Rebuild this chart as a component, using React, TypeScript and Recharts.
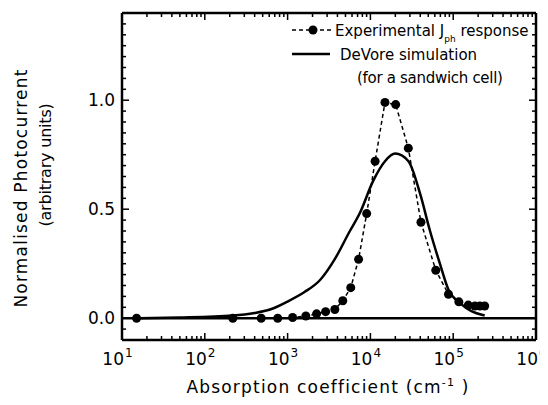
import React from "react";
import { ComposedChart, Line, XAxis, YAxis, ReferenceLine, Customized } from "recharts";

// Experimental J_ph response
const expAlpha = [15, 218, 480, 760, 1150, 1660, 2240, 2880, 3720, 4640, 5790, 7200, 9020, 11400, 15000, 20200, 28700, 40800, 61600, 87700, 117000, 152000, 183000, 210000, 240000];
const expJ = [0, 0, 0, 0, 0.003, 0.01, 0.02, 0.03, 0.04, 0.08, 0.14, 0.27, 0.48, 0.72, 0.99, 0.98, 0.78, 0.44, 0.22, 0.11, 0.075, 0.06, 0.056, 0.056, 0.056];

// DeVore simulation (sandwich cell)
const simAlpha = [16, 50, 218, 400, 613, 980, 1600, 2450, 3700, 5650, 7410, 10800, 15000, 19900, 28800, 39900, 52500, 69100, 87700, 120000, 158000, 240000];
const simJ = [0, 0.003, 0.012, 0.024, 0.04, 0.075, 0.12, 0.174, 0.27, 0.4, 0.48, 0.63, 0.72, 0.755, 0.72, 0.57, 0.4, 0.25, 0.13, 0.07, 0.037, 0.012];

const xMajor = [10, 100, 1000, 10000, 100000, 1000000];
const xExp = ["1", "2", "3", "4", "5", "6"];
const xTicks = [
  10, 20, 30, 40, 50, 60, 70, 80, 90,
  100, 200, 300, 400, 500, 600, 700, 800, 900,
  1000, 2000, 3000, 4000, 5000, 6000, 7000, 8000, 9000,
  10000, 20000, 30000, 40000, 50000, 60000, 70000, 80000, 90000,
  100000, 200000, 300000, 400000, 500000, 600000, 700000, 800000, 900000,
  1000000,
];
const yMajor = [0, 0.5, 1.0];
const yMajorLabels = ["0.0", "0.5", "1.0"];
const yTicks = [-0.1, -0.05, 0, 0.05, 0.1, 0.15, 0.2, 0.25, 0.3, 0.35, 0.4, 0.45, 0.5, 0.55, 0.6, 0.65, 0.7, 0.75, 0.8, 0.85, 0.9, 0.95, 1.0, 1.05, 1.1, 1.15, 1.2, 1.25, 1.3, 1.35, 1.4];

const expData = expAlpha.map((a, i) => ({ x: a, y: expJ[i] }));
const simData = simAlpha.map((a, i) => ({ x: a, y: simJ[i] }));

const FONT = "DejaVu Sans";
const W = 540;
const H = 397;
const M = { top: 4, right: 11, left: 0, bottom: 0 };
const LEFT_W = 114;
const BOTTOM_H = 65;
const PLOT_H = H - M.top - 1 - BOTTOM_H; // 327
const PLOT_W = W - M.right - 1 - LEFT_W; // 414

const majorIdxX = (v: number) => xMajor.findIndex((m) => Math.abs(m - v) / m < 1e-6);
const majorIdxY = (v: number) => yMajor.findIndex((m) => Math.abs(m - v) < 1e-6);

const BottomTick = (props: any) => {
  const { x, y, payload } = props;
  const idx = majorIdxX(payload.value);
  if (idx < 0) return <g />;
  return (
    <g fontFamily={FONT} fill="#000">
      <text x={x + 2} y={y + 25} textAnchor="end" fontSize={17}>10</text>
      <text x={x + 3} y={y + 17} textAnchor="start" fontSize={12}>{xExp[idx]}</text>
    </g>
  );
};

// draws tick marks for both top and bottom frame edges
const TopTick = (props: any) => {
  const { x, y, payload } = props;
  const v = payload.value;
  const inner = v > 10 && v < 1000000;
  if (!inner) return <g />;
  const len = majorIdxX(v) >= 0 ? 7 : 4;
  return (
    <g>
      <line x1={x} x2={x} y1={y} y2={y + len} stroke="#000" strokeWidth={1.5} />
      <line x1={x} x2={x} y1={y + PLOT_H} y2={y + PLOT_H - len} stroke="#000" strokeWidth={1.5} />
    </g>
  );
};

const LeftTick = (props: any) => {
  const { x, y, payload } = props;
  const idx = majorIdxY(payload.value);
  if (idx < 0) return <g />;
  return (
    <text x={x - 7} y={y + 6} textAnchor="end" fontFamily={FONT} fontSize={17} fill="#000">
      {yMajorLabels[idx]}
    </text>
  );
};

// draws tick marks for both right and left frame edges
const RightTick = (props: any) => {
  const { x, y, payload } = props;
  const v = payload.value;
  const inner = v > -0.1 && v < 1.4;
  if (!inner) return <g />;
  const len = majorIdxY(v) >= 0 ? 7 : 4;
  return (
    <g>
      <line x1={x} x2={x - len} y1={y} y2={y} stroke="#000" strokeWidth={1.5} />
      <line x1={x - PLOT_W} x2={x - PLOT_W + len} y1={y} y2={y} stroke="#000" strokeWidth={1.5} />
    </g>
  );
};

const Texts = () => (
  <g fontFamily={FONT} fill="#000">
    <text x={320} y={385} textAnchor="middle" fontSize={17} letterSpacing={1.2}>
      <tspan>Absorption coefficient (cm</tspan>
      <tspan dy={-7} fontSize={11}>-1</tspan>
      <tspan dy={7}> )</tspan>
    </text>
    <text transform="translate(19,180) rotate(-90)" x={0} y={0} textAnchor="middle" fontSize={17} letterSpacing={1.2}>
      Normalised Photocurrent
    </text>
    <text transform="translate(43,157) rotate(-90)" x={0} y={0} textAnchor="middle" fontSize={16} letterSpacing={-0.2}>
      (arbitrary units)
    </text>
    <line x1={284} x2={325} y1={22} y2={22} stroke="#000" strokeWidth={1.5} strokeDasharray="4 3" />
    <circle cx={305} cy={22} r={4.5} fill="#000" />
    <text x={327} y={28} fontSize={15}>
      <tspan>Experimental J</tspan>
      <tspan dy={6} fontSize={9}>ph</tspan>
      <tspan dy={-6}>  response</tspan>
    </text>
    <line x1={284} x2={322} y1={46} y2={46} stroke="#000" strokeWidth={2.5} />
    <text x={332} y={52} fontSize={15}>DeVore simulation</text>
    <text x={349} y={75} fontSize={15} letterSpacing={-0.3}>(for a sandwich cell)</text>
  </g>
);

const axisLineStyle = { stroke: "#000", strokeWidth: 2.5 };

export default function App() {
  return (
    <ComposedChart width={W} height={H} margin={M}>
      <XAxis xAxisId="b" type="number" dataKey="x" scale="log" domain={[10, 1000000]}
        ticks={xTicks} interval={0} tick={<BottomTick />} tickLine={false} tickSize={0} tickMargin={0}
        height={BOTTOM_H} axisLine={axisLineStyle} />
      <XAxis xAxisId="t" orientation="top" type="number" dataKey="x" scale="log" domain={[10, 1000000]}
        ticks={xTicks} interval={0} tick={<TopTick />} tickLine={false} tickSize={0} tickMargin={0}
        height={1} axisLine={axisLineStyle} />
      <YAxis yAxisId="l" type="number" domain={[-0.1, 1.4]}
        ticks={yTicks} interval={0} tick={<LeftTick />} tickLine={false} tickSize={0} tickMargin={0}
        width={LEFT_W} axisLine={axisLineStyle} />
      <YAxis yAxisId="r" orientation="right" type="number" domain={[-0.1, 1.4]}
        ticks={yTicks} interval={0} tick={<RightTick />} tickLine={false} tickSize={0} tickMargin={0}
        width={1} axisLine={axisLineStyle} />
      <ReferenceLine xAxisId="b" yAxisId="l" y={0} stroke="#000" strokeWidth={2.5} />
      <Line xAxisId="t" yAxisId="r" data={expData} dataKey="y" stroke="none" dot={false} activeDot={false}
        legendType="none" isAnimationActive={false} />
      <Line xAxisId="b" yAxisId="l" data={simData} dataKey="y" type="monotone" stroke="#000" strokeWidth={2.5}
        dot={false} isAnimationActive={false} />
      <Line xAxisId="b" yAxisId="l" data={expData} dataKey="y" type="linear" stroke="#000" strokeWidth={1.5}
        strokeDasharray="4 3" dot={{ r: 4.5, fill: "#000", stroke: "#000", strokeWidth: 0 }} isAnimationActive={false} />
      <Customized component={Texts} />
    </ComposedChart>
  );
}
